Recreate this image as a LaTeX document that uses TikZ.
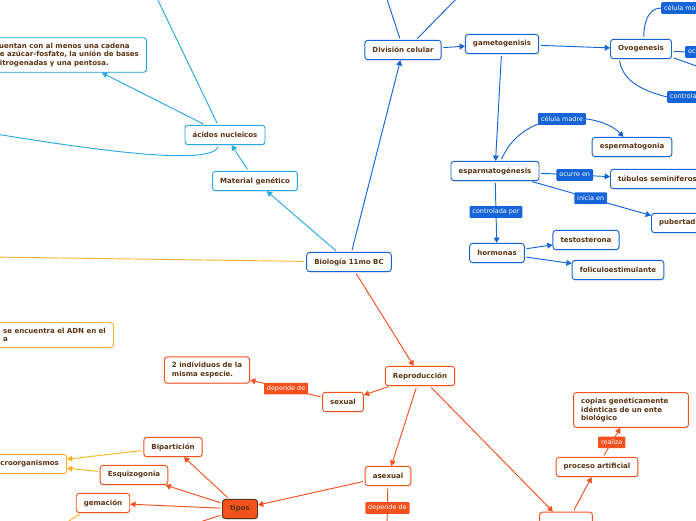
\documentclass[tikz,border=0pt]{standalone}
\usepackage{fontspec}
\setmainfont{DejaVu Sans}
\usetikzlibrary{arrows.meta,shadows}
\definecolor{mapblue}{HTML}{1565D8}
\definecolor{mapcyan}{HTML}{29A9E1}
\definecolor{mapyellow}{HTML}{F9B526}
\definecolor{maporange}{HTML}{F4511E}
\definecolor{maptext}{HTML}{5A3412}
\tikzset{
  idea/.style={draw=#1, fill=white, rounded corners=2.5pt, line width=0.8pt, text=maptext,
    font=\fontsize{6}{7}\selectfont\bfseries, minimum height=16.5pt, inner xsep=6.5pt, inner ysep=4.8pt,
    drop shadow={shadow xshift=0.3pt,shadow yshift=-0.7pt,opacity=0.25}},
  tag/.style={fill=#1, text=white, font=\fontsize{5.5}{6.5}\selectfont, rounded corners=0.8pt,
    inner xsep=2.5pt, inner ysep=1.6pt, minimum height=10pt},
  link/.style={draw=#1, line width=0.8pt, shorten <=1.5pt, -{Triangle[length=4.5pt,width=5pt]}},
  plain/.style={draw=#1, line width=0.8pt, shorten <=1.5pt},
}
\begin{document}
\begin{tikzpicture}[x=0.03cm,y=-0.03cm]
  \useasboundingbox (0,0) rectangle (696,520);
  \clip (0,0) rectangle (696,520);

  \node[idea=mapblue] (bio) at (349,262) {Biología 11mo BC};
  \node[idea=mapcyan] (mat) at (255,181) {Material genético};
  \node[idea=mapcyan] (aci) at (225,135) {ácidos nucleicos};
  \node[idea=mapcyan,anchor=east,align=left] (cad) at (147,55) {cuentan con al menos una cadena\\de azúcar-fosfato, la unión de bases\\nitrogenadas y una pentosa.};
  \node[idea=mapyellow,anchor=east,align=left] (adn) at (114,335) {se encuentra el ADN en el\\a};

  \node[idea=mapblue] (div) at (403,50) {División celular};
  \node[idea=mapblue] (gam) at (502,44) {gametogenisis};
  \node[idea=mapblue] (ovo) at (641,49) {Ovogenesis};
  \node[idea=mapblue] (esp) at (495,171) {esparmatogénesis};
  \node[idea=mapblue] (spg) at (632,147) {espermatogonia};
  \node[idea=mapblue,anchor=west] (tub) at (610,179) {túbulos seminíferos};
  \node[idea=mapblue,anchor=west] (pub) at (651,223) {pubertad};
  \node[idea=mapblue] (hor) at (497,253) {hormonas};
  \node[idea=mapblue] (tes) at (586,240) {testosterona};
  \node[idea=mapblue] (fol) at (618,270) {foliculoestimulante};
  \node[tag=mapblue,anchor=west] (ovoM) at (661,8) {célula madre};
  \node[tag=mapblue,anchor=west] (ovoO) at (685,52) {ocurre en};
  \node[tag=mapblue,anchor=west] (ovoP) at (667,97) {controlada por};

  \node[idea=maporange] (rep) at (420,376) {Reproducción};
  \node[idea=maporange] (sex) at (343,402) {sexual};
  \node[idea=maporange,align=left] (ind) at (207,370) {2 individuos de la\\misma especie.};
  \node[idea=maporange] (asx) at (388,476) {asexual};
  \node[idea=maptext,fill=maporange] (tip) at (240,509) {tipos};
  \node[idea=maporange,minimum height=22pt] (clo) at (566,525) {clonación};
  \node[idea=maporange] (pro) at (597,467) {proceso artificial};
  \node[idea=maporange,align=left,text width=85pt] (cop) at (631,410) {copias genéticamente\\idénticas de un ente\\biológico};
  \node[idea=maporange] (bip) at (173,447) {Bipartición};
  \node[idea=maporange] (esq) at (134,475) {Esquizogonia};
  \node[idea=maporange] (gem) at (103,503) {gemación};
  \node[idea=mapyellow,anchor=east] (mic) at (67,464) {microorganismos};

  \coordinate (divA) at (384,-10);
  \coordinate (divB) at (465,-10);
  \coordinate (aciA) at (153,-10);
  \coordinate (aciB) at (-10,133);
  \coordinate (bioA) at (-10,257);
  \coordinate (ovoA) at (740,8);
  \coordinate (ovoB) at (740,53);
  \coordinate (ovoC) at (730,78);
  \coordinate (ovoD) at (740,97);
  \coordinate (asxA) at (387,530);
  \coordinate (tipA) at (160,535);
  \coordinate (gemA) at (55,530);

  \draw[link=mapcyan] (bio) -- (mat);
  \draw[link=mapcyan] (mat) -- (aci);
  \draw[link=mapcyan] (aci) -- (cad);
  \draw[plain=mapcyan] (aci.125) -- (aciA);
  \draw[plain=mapcyan] (aci.239) .. controls (212,162) and (140,158) .. (aciB);
  \draw[plain=mapyellow] (bio) -- (bioA);
  \draw[link=mapyellow] (bip) -- (mic);
  \draw[link=mapyellow] (esq) -- (mic);
  \draw[plain=mapyellow] (gem.205) -- (gemA);

  \draw[link=mapblue] (bio) -- (div);
  \draw[link=mapblue] (div) -- (gam);
  \draw[link=mapblue] (gam) -- (ovo);
  \draw[link=mapblue] (gam) -- (esp);
  \draw[plain=mapblue] (div.105) -- (divA);
  \draw[plain=mapblue] (div.38) -- (divB);
  \draw[link=mapblue] (esp.60) .. controls (524,106) and (600,112) .. (spg.130) node[tag=mapblue,pos=0.5] {célula madre};
  \draw[link=mapblue] (esp) -- node[tag=mapblue] {ocurre en} (tub);
  \draw[link=mapblue] (esp) -- node[tag=mapblue] {inicia en} (pub);
  \draw[link=mapblue] (esp) -- node[tag=mapblue] {controlada por} (hor);
  \draw[link=mapblue] (hor) -- (tes);
  \draw[link=mapblue] (hor) -- (fol);
  \draw[plain=mapblue] (ovo.75) to[out=90,in=180] (ovoM.west);
  \draw[plain=mapblue] (ovoM.east) -- (ovoA);
  \draw[plain=mapblue] (ovo) -- (ovoO.west);
  \draw[plain=mapblue] (ovoO.east) -- (ovoB);
  \draw[plain=mapblue] (ovo.-15) -- (ovoC);
  \draw[plain=mapblue] (ovo.205) to[out=-80,in=165] (ovoP.west);
  \draw[plain=mapblue] (ovoP.east) -- (ovoD);

  \draw[link=maporange] (bio) -- (rep);
  \draw[link=maporange] (rep) -- (sex);
  \draw[link=maporange] (sex) -- node[tag=maporange] {depende de} (ind);
  \draw[link=maporange] (rep) -- (asx);
  \draw[plain=maporange] (asx) -- node[tag=maporange] {depende de} (asxA);
  \draw[link=maporange] (asx) -- (tip);
  \draw[link=maporange] (rep) -- (clo);
  \draw[link=maporange] (clo) -- (pro);
  \draw[link=maporange] (pro) -- node[tag=maporange] {realiza} (cop);
  \draw[link=maporange] (tip) -- (bip);
  \draw[link=maporange] (tip) -- (esq);
  \draw[link=maporange] (tip) -- (gem);
  \draw[plain=maporange] (tip) -- (tipA);
\end{tikzpicture}
\end{document}
